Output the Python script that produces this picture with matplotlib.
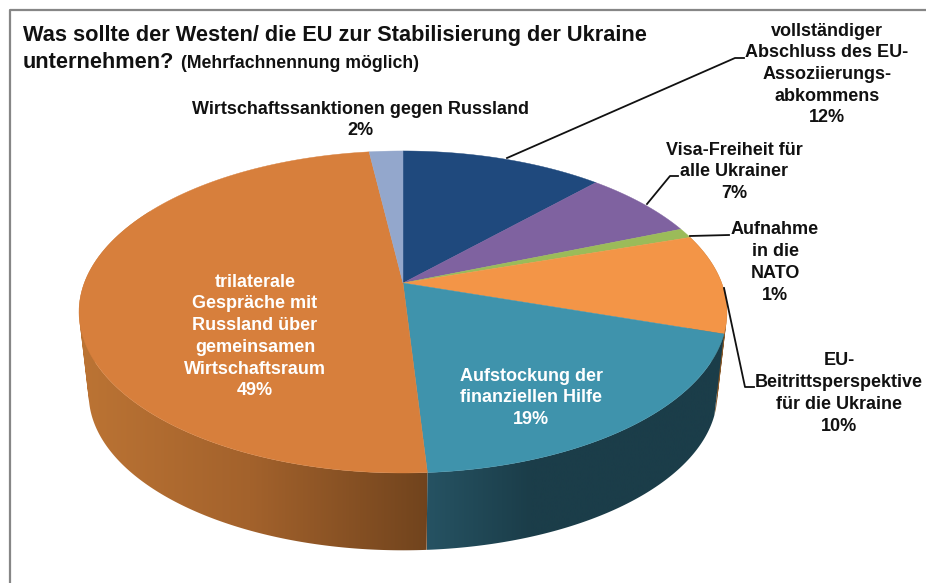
import numpy as np
import matplotlib
matplotlib.use("Agg")
import matplotlib.pyplot as plt
from matplotlib.colors import to_rgb
from matplotlib.path import Path

plt.rcParams['font.family'] = ['Liberation Sans', 'DejaVu Sans']

# clockwise from 12 o'clock
categories = [
    "vollständiger\nAbschluss des EU-\nAssoziierungs-\nabkommens",
    "Visa-Freiheit für\nalle Ukrainer",
    "Aufnahme\nin die\nNATO",
    "EU-\nBeitrittsperspektive\nfür die Ukraine",
    "Aufstockung der\nfinanziellen Hilfe",
    "trilaterale\nGespräche mit\nRussland über\ngemeinsamen\nWirtschaftsraum",
    "Wirtschaftssanktionen gegen Russland",
]
values = [12, 7, 1, 10, 19, 49, 2]
colors = ['#1F497D', '#7F62A0', '#9BBB59', '#F39547', '#3F93AC', '#D77F3C', '#93A7CC']

label_x = [827, 734, 775, 839, 531, 255, 360]
label_y = [74.5, 172, 262.5, 393.5, 398, 336.5, 120]
label_col = ['#111111'] * 4 + ['white', 'white', '#111111']

# side shading, only the three front slices show a side
side_stops = {
    3: ([700, 730], ['#8A5A2A', '#8A5A2A']),
    4: ([425, 530, 720], ['#265363', '#1B3D49', '#1B3D49']),
    5: ([78, 250, 430], ['#BC7434', '#A3622C', '#70431D']),
}

# perspective ellipse of the pie
cx = 403
apex_top = 283
apex_bot = 366
a, b, k = 155.8, 318.7, 0.18
shrink = 0.97


def rim(t, apex, s=1.0):
    x, y = np.sin(t), np.cos(t)
    d = 1 + k * y
    return cx + s * b * x / d, apex - s * a * y / d


def quad_path(pts):
    # same winding for all, otherwise overlapping strips cancel in the clip
    p = np.array(pts)
    area = np.sum(p[:, 0] * np.roll(p[:, 1], -1) - np.roll(p[:, 0], -1) * p[:, 1])
    if area < 0:
        p = p[::-1]
    return Path(np.vstack([p, p[0]]), closed=True)


fig = plt.figure(figsize=(9.26, 5.83), dpi=100)
ax = fig.add_axes([0, 0, 1, 1])

# frame
ax.plot([10, 10, 926], [583, 10, 10], color='#868686', lw=1.6)

edges = np.radians(np.cumsum([0] + values) * 3.6)

# sides: gradient image clipped to the strips of the rim
for i, (stop_x, stop_c) in side_stops.items():
    t0, t1 = edges[i], edges[i + 1]
    if i == 5:
        t1 = np.radians(300)
    ts = np.append(np.arange(t0, t1, np.radians(0.5)), t1)
    tx, ty = rim(ts, apex_top)
    bx, by = rim(ts, apex_bot, shrink)
    quads = []
    for j in range(len(ts) - 1):
        quads.append(quad_path([(tx[j], ty[j]), (tx[j + 1], ty[j + 1]), (bx[j + 1], by[j + 1]), (bx[j], by[j])]))
    x0, x1 = min(tx.min(), bx.min()), max(tx.max(), bx.max())
    grid = np.linspace(x0, x1, 400)
    rgb = np.array([to_rgb(c) for c in stop_c])
    img = np.stack([np.interp(grid, stop_x, rgb[:, j]) for j in range(3)], axis=1)[np.newaxis, :, :]
    im = ax.imshow(img, extent=[x0, x1, 600, 200], aspect='auto', zorder=2, interpolation='bilinear')
    im.set_clip_path(Path.make_compound_path(*quads), transform=ax.transData)

# top face
for i in range(len(values)):
    ts = np.linspace(edges[i], edges[i + 1], 120)
    xs, ys = rim(ts, apex_top)
    ax.fill(np.r_[cx, xs], np.r_[apex_top, ys], color=colors[i], lw=0.3, zorder=3)

# leader lines
ax.plot([507, 735, 744], [158, 58, 58], color='#111111', lw=1.3, zorder=4)
ax.plot([647, 670, 678], [204, 176, 176], color='#111111', lw=1.3, zorder=4)
ax.plot([690, 729], [236, 235], color='#111111', lw=1.3, zorder=4)
ax.plot([724, 745, 754], [288, 387, 387], color='#111111', lw=1.3, zorder=4)

# slice labels
for name, v, x, y, c in zip(categories, values, label_x, label_y, label_col):
    ax.text(x, y, f"{name}\n{v}%", ha='center', va='center', color=c, fontsize=13,
            fontweight='bold', linespacing=1.36, zorder=5)

# title
ax.text(23, 36, "Was sollte der Westen/ die EU zur Stabilisierung der Ukraine", fontsize=15.7,
        fontweight='bold', color='#111111', va='center')
ax.text(23, 63, "unternehmen?", fontsize=15.7, fontweight='bold', color='#111111', va='center')
ax.text(181, 63, "(Mehrfachnennung möglich)", fontsize=12.7, fontweight='bold', color='#111111', va='center')

ax.set_xlim(0, 926)
ax.set_ylim(583, 0)
ax.axis('off')

fig.savefig("out.png", dpi=100, facecolor='white')
